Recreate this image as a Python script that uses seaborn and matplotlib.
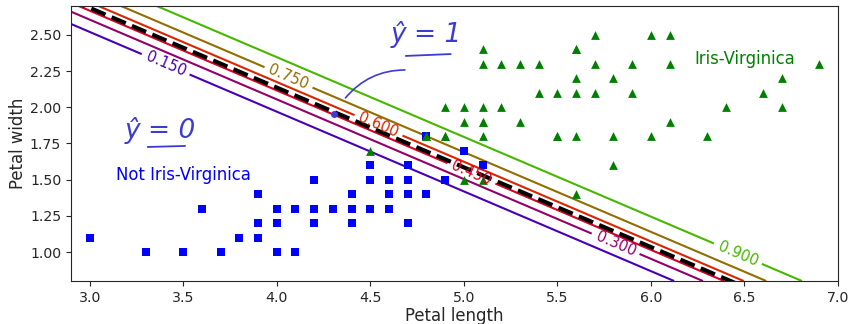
import numpy as np
import pandas as pd
import matplotlib
matplotlib.use("Agg")
import matplotlib.pyplot as plt
import seaborn as sns

# iris petal measurements (versicolor = not virginica, virginica)
not_virg_length = [4.7, 4.5, 4.9, 4.0, 4.6, 4.5, 4.7, 3.3, 4.6, 3.9, 3.5, 4.2, 4.0, 4.7, 3.6, 4.4, 4.5,
                   4.1, 4.5, 3.9, 4.8, 4.0, 4.9, 4.7, 4.3, 4.4, 4.8, 5.0, 4.5, 3.5, 3.8, 3.7, 3.9, 5.1,
                   4.5, 4.5, 4.7, 4.4, 4.1, 4.0, 4.4, 4.6, 4.0, 3.3, 4.2, 4.2, 4.2, 4.3, 3.0, 4.1]
not_virg_width = [1.4, 1.5, 1.5, 1.3, 1.5, 1.3, 1.6, 1.0, 1.3, 1.4, 1.0, 1.5, 1.0, 1.4, 1.3, 1.4, 1.5,
                  1.0, 1.5, 1.1, 1.8, 1.3, 1.5, 1.2, 1.3, 1.4, 1.4, 1.7, 1.5, 1.0, 1.1, 1.0, 1.2, 1.6,
                  1.5, 1.6, 1.5, 1.3, 1.3, 1.3, 1.2, 1.4, 1.2, 1.0, 1.3, 1.2, 1.3, 1.3, 1.1, 1.3]
virg_length = [6.0, 5.1, 5.9, 5.6, 5.8, 6.6, 4.5, 6.3, 5.8, 6.1, 5.1, 5.3, 5.5, 5.0, 5.1, 5.3, 5.5,
               6.7, 6.9, 5.0, 5.7, 4.9, 6.7, 4.9, 5.7, 6.0, 4.8, 4.9, 5.6, 5.8, 6.1, 6.4, 5.6, 5.1,
               5.6, 6.1, 5.6, 5.5, 4.8, 5.4, 5.6, 5.1, 5.1, 5.9, 5.7, 5.2, 5.0, 5.2, 5.4, 5.1]
virg_width = [2.5, 1.9, 2.1, 1.8, 2.2, 2.1, 1.7, 1.8, 1.8, 2.5, 2.0, 1.9, 2.1, 2.0, 2.4, 2.3, 1.8,
              2.2, 2.3, 1.5, 2.3, 2.0, 2.0, 1.8, 2.1, 1.8, 1.8, 1.8, 2.1, 1.6, 1.9, 2.0, 2.2, 1.5,
              1.4, 2.3, 2.4, 1.8, 1.8, 2.1, 2.4, 2.3, 1.9, 2.3, 2.5, 2.3, 1.9, 2.0, 2.3, 1.8]

# logistic regression model: p = sigmoid(w1*length + w2*width + b)
coef = [5.754, 10.446]
intercept = -45.33
levels = [0.15, 0.30, 0.45, 0.60, 0.75, 0.90]

sns.set_style("ticks")

fig = plt.figure(figsize=(8.49, 3.24), dpi=100)
ax = fig.add_axes([0.0836, 0.1327, 0.9034, 0.8488])

x0, x1 = np.meshgrid(np.linspace(2.9, 7, 500), np.linspace(0.8, 2.7, 200))
zz = 1 / (1 + np.exp(-(coef[0] * x0 + coef[1] * x1 + intercept)))

df_not = pd.DataFrame({"length": not_virg_length, "width": not_virg_width})
df_virg = pd.DataFrame({"length": virg_length, "width": virg_width})
sns.scatterplot(data=df_not, x="length", y="width", marker="s", color="b", s=34, linewidth=0, ax=ax, zorder=3)
sns.scatterplot(data=df_virg, x="length", y="width", marker="^", color="g", s=40, linewidth=0, ax=ax, zorder=3)

contour = ax.contour(x0, x1, zz, levels=levels, cmap=plt.cm.brg, norm=plt.Normalize(0, 1.05), linewidths=1.5)
label_pos = [(3.406, 2.297), (5.813, 1.062), (5.037, 1.532), (4.545, 1.878), (4.064, 2.21), (6.465, 0.99)]
ax.clabel(contour, inline=1, fontsize=10.5, fmt="%1.3f", manual=label_pos)

left_right = np.array([2.9, 7])
boundary = -(coef[0] * left_right + intercept) / coef[1]
ax.plot(left_right, boundary, "k--", linewidth=3)

ax.text(3.5, 1.5, "Not Iris-Virginica", fontsize=11.9, color="b", ha="center")
ax.text(6.5, 2.3, "Iris-Virginica", fontsize=11.9, color="g", ha="center")

# hand-drawn notes
pen = "#3c3cd2"
ax.text(4.80, 2.50, "ŷ = 1", fontsize=19, color=pen, ha="center", va="center", fontstyle="italic")
ax.plot([4.69, 4.93], [2.355, 2.368], color=pen, lw=1.3)
ax.text(3.38, 1.84, "ŷ = 0", fontsize=19, color=pen, ha="center", va="center", fontstyle="italic")
ax.plot([3.31, 3.51], [1.726, 1.733], color=pen, lw=1.3)
ax.annotate("", xy=(4.70, 2.258), xytext=(4.358, 2.05),
            arrowprops=dict(arrowstyle="-", color=pen, lw=1.2, connectionstyle="arc3,rad=-0.25"))
ax.plot([4.305], [1.954], "o", color=pen, markersize=4, zorder=4)

ax.set_xlabel("Petal length", fontsize=11.9, labelpad=1.5)
ax.set_ylabel("Petal width", fontsize=11.9, labelpad=2)
ax.tick_params(labelsize=10.2)
ax.axis([2.9, 7, 0.8, 2.7])
for s in ax.spines.values():
    s.set_visible(True)

fig.savefig("out.png", dpi=100)
